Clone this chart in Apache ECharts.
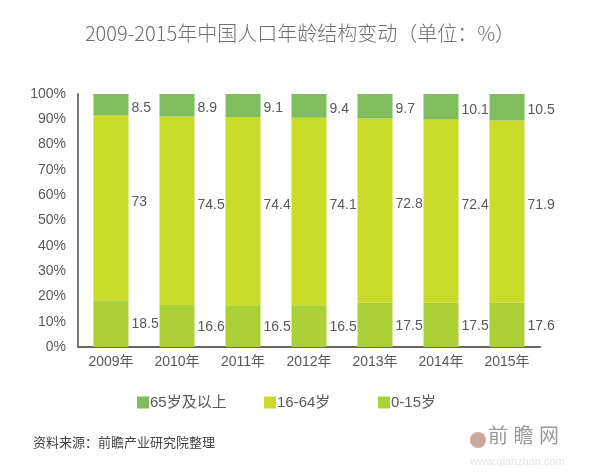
<!DOCTYPE html>
<html><head><meta charset="utf-8">
<script src="https://cdn.jsdelivr.net/npm/echarts@6/dist/echarts.min.js"></script>
<style>html,body{margin:0;padding:0;background:#fff}#c{width:600px;height:475px}</style>
</head><body><div id="c"></div>
<script>
var years = ['2009年','2010年','2011年','2012年','2013年','2014年','2015年'];
var age0_15 = [18.5,16.6,16.5,16.5,17.5,17.5,17.6];
var age16_64 = [73,74.5,74.4,74.1,72.8,72.4,71.9];
var age65 = [8.5,8.9,9.1,9.4,9.7,10.1,10.5];
var seriesNames = ['65岁及以上','16-64岁','0-15岁'];

var FONT = '"Liberation Sans","Noto Sans CJK SC",sans-serif';
var chart = echarts.init(document.getElementById('c'));
function lbl(offY){
  return {show:true, position:'right', distance:3, color:'#595959', fontSize:14, fontFamily:FONT, offset:[0,offY]};
}
var legendLefts = [132, 259, 373];
var legends = seriesNames.map(function(n, i){
  return {data:[n], left:legendLefts[i], top:390, itemWidth:12, itemHeight:12, icon:'rect',
    textStyle:{fontSize:15, color:'#595959', fontFamily:FONT, padding:[0,0,0,-4]}};
});
chart.setOption({
  animation:false,
  backgroundColor:'#fff',
  title:{text:'2009-2015年中国人口年龄结构变动（单位：%）', left:'center', top:18,
    textStyle:{fontSize:20, fontWeight:300, color:'#6e6e6e', fontFamily:'"Noto Sans CJK SC",sans-serif'}},
  legend:legends,
  grid:{left:78, right:60, top:94, bottom:128},
  xAxis:{type:'category', data:years,
    axisLine:{lineStyle:{color:'#666', width:2}}, axisTick:{show:false},
    axisLabel:{fontSize:14, color:'#595959', fontFamily:FONT, margin:8}},
  yAxis:{type:'value', min:0, max:100, interval:10,
    axisLine:{show:true, lineStyle:{color:'#777', width:2}}, axisTick:{show:false},
    splitLine:{show:false},
    axisLabel:{formatter:'{value}%', fontSize:14, color:'#595959', fontFamily:FONT, margin:12}},
  series:[
    {name:seriesNames[2], type:'bar', stack:'a', barWidth:35, data:age0_15,
      itemStyle:{color:'#acd037'}, label:lbl(1)},
    {name:seriesNames[1], type:'bar', stack:'a', barWidth:35, data:age16_64,
      itemStyle:{color:'#cbdb2a'}, label:lbl(-6)},
    {name:seriesNames[0], type:'bar', stack:'a', barWidth:35, data:age65,
      itemStyle:{color:'#80bd5c'}, label:lbl(3)}
  ],
  graphic:[
    {type:'text', left:33, top:437, style:{text:'资料来源：前瞻产业研究院整理', fontSize:13, fill:'#444', fontFamily:FONT}},
    {type:'circle', shape:{cx:478, cy:440, r:8}, style:{fill:'#c8a89a'}},
    {type:'text', left:488, top:427, style:{text:'前 瞻 网', fontSize:20, fill:'#9a9a9a', fontFamily:FONT}},
    {type:'text', left:470, top:456, style:{text:'www.qianzhan.com', fontSize:11, fill:'#e4e4e4', fontFamily:FONT}}
  ]
});
</script></body></html>
